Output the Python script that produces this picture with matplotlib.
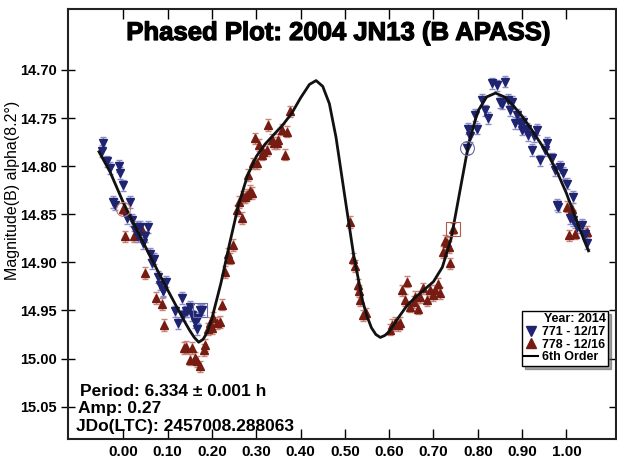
import numpy as np
from matplotlib import pyplot as plt
from matplotlib.lines import Line2D
import matplotlib.patheffects as pe

plt.rcParams['font.family'] = ['Liberation Sans', 'DejaVu Sans']

# session 771 (12/17), blue
ph_771 = [-0.045, -0.049, -0.037, -0.030, -0.011, -0.007, -0.001, -0.024, -0.019, 0.015,
          0.008, 0.019, 0.030, 0.038, 0.026, 0.034, 0.049, 0.056, 0.045, 0.060,
          0.068, 0.064, 0.079, 0.083, 0.090, 0.096, 0.117, 0.124, 0.132, 0.135,
          0.143, 0.151, 0.154, 0.162, 0.166, 0.173, 0.177, 0.089, 0.142, 0.169,
          0.779, 0.783, 0.775, 0.794, 0.798, 0.809, 0.817, 0.824, 0.832, 0.843,
          0.862, 0.850, 0.854, 0.869, 0.877, 0.873, 0.888, 0.884, 0.896, 0.903,
          0.899, 0.911, 0.914, 0.926, 0.933, 0.922, 0.941, 0.952, 0.956, 0.967,
          0.975, 0.986, 0.993, 1.001, 0.978, 0.982, 1.016, 1.008, 1.016, 1.023,
          1.035, 1.042, 1.046]
mag_771 = [14.776, 14.784, 14.795, 14.802, 14.800, 14.807, 14.820, 14.837, 14.840, 14.837,
           14.854, 14.856, 14.863, 14.863, 14.866, 14.873, 14.873, 14.863, 14.880, 14.891,
           14.896, 14.901, 14.915, 14.923, 14.929, 14.920, 14.951, 14.963, 14.937, 14.955,
           14.951, 14.946, 14.955, 14.962, 14.969, 14.949, 14.949, 14.930, 14.951, 14.958,
           14.761, 14.769, 14.781, 14.747, 14.761, 14.731, 14.742, 14.750, 14.714, 14.716,
           14.712, 14.733, 14.735, 14.731, 14.733, 14.742, 14.747, 14.755, 14.755, 14.754,
           14.762, 14.761, 14.768, 14.769, 14.762, 14.783, 14.794, 14.783, 14.776, 14.792,
           14.804, 14.801, 14.807, 14.818, 14.840, 14.842, 14.832, 14.854, 14.856, 14.863,
           14.861, 14.870, 14.880]

# session 778 (12/16), red
ph_778 = [0.000, 0.004, 0.023, 0.042, 0.049, 0.074, 0.087, 0.092, 0.142, 0.137,
          0.154, 0.151, 0.162, 0.166, 0.173, 0.181, 0.184, 0.192, 0.196, 0.203,
          0.211, 0.218, 0.222, 0.200, 0.230, 0.237, 0.241, 0.248, 0.256, 0.260,
          0.267, 0.271, 0.278, 0.286, 0.282, 0.293, 0.297, 0.275, 0.290, 0.301,
          0.307, 0.312, 0.316, 0.324, 0.327, 0.335, 0.339, 0.346, 0.350, 0.358,
          0.365, 0.369, 0.376, 0.512, 0.519, 0.523, 0.530, 0.533, 0.534, 0.542,
          0.548, 0.602, 0.606, 0.613, 0.621, 0.625, 0.628, 0.641, 0.636, 0.647,
          0.655, 0.658, 0.666, 0.670, 0.677, 0.685, 0.692, 0.700, 0.704, 0.711,
          0.715, 0.722, 0.726, 0.734, 0.737, 0.730, 0.745, 1.001, 1.005, 1.012,
          1.016, 1.020, 1.046]
mag_778 = [14.844, 14.873, 14.873, 14.866, 14.911, 14.937, 14.943, 14.965, 14.988, 14.989,
           14.989, 15.001, 14.999, 15.003, 15.008, 14.991, 14.986, 14.969, 14.963, 14.958,
           14.963, 14.962, 14.944, 14.968, 14.910, 14.891, 14.896, 14.882, 14.846, 14.837,
           14.854, 14.832, 14.830, 14.826, 14.809, 14.797, 14.771, 14.832, 14.828, 14.797,
           14.778, 14.788, 14.785, 14.783, 14.757, 14.773, 14.776, 14.776, 14.773, 14.762,
           14.788, 14.764, 14.743, 14.858, 14.896, 14.904, 14.923, 14.930, 14.939, 14.955,
           14.953, 14.970, 14.965, 14.963, 14.965, 14.963, 14.929, 14.920, 14.939, 14.946,
           14.941, 14.936, 14.948, 14.936, 14.927, 14.939, 14.929, 14.934, 14.929, 14.922,
           14.932, 14.889, 14.878, 14.884, 14.901, 14.880, 14.865, 14.842, 14.872, 14.844,
           14.852, 14.870, 14.868]

err_771 = 0.006
err_778 = 0.006

# 6th order fit curve
fit_ph = [-0.055, -0.03, 0.00, 0.03, 0.06, 0.09, 0.12, 0.14, 0.15, 0.16, 0.17,
          0.18, 0.19, 0.20, 0.22, 0.24, 0.26, 0.28, 0.30, 0.32, 0.34, 0.36,
          0.38, 0.40, 0.42, 0.435, 0.45, 0.465, 0.48, 0.50, 0.52, 0.54, 0.55,
          0.56, 0.57, 0.58, 0.59, 0.60, 0.62, 0.64, 0.66, 0.68, 0.70, 0.72, 0.74,
          0.76, 0.78, 0.80, 0.82, 0.84, 0.86, 0.88, 0.90, 0.92, 0.94,
          0.96, 0.98, 1.00, 1.02, 1.04, 1.05]
fit_mag = [14.785, 14.806, 14.838, 14.866, 14.893, 14.920, 14.946, 14.963, 14.971, 14.978, 14.983,
           14.980, 14.972, 14.958, 14.922, 14.880, 14.840, 14.810, 14.790, 14.777, 14.767, 14.757,
           14.745, 14.729, 14.715, 14.711, 14.717, 14.735, 14.770, 14.832, 14.893, 14.940, 14.956,
           14.968, 14.975, 14.978, 14.976, 14.972, 14.958, 14.945, 14.936, 14.928, 14.920, 14.905, 14.875,
           14.825, 14.775, 14.743, 14.728, 14.724, 14.728, 14.737, 14.748, 14.761, 14.775,
           14.789, 14.807, 14.828, 14.853, 14.877, 14.888]

blue = '#1f2470'
blue_err = '#8c8cc8'
red = '#761c12'
red_err = '#c88476'

fig = plt.figure(figsize=(6.17, 4.59), dpi=100)
ax = fig.add_axes([68/617, 20/459, 548/617, 430/459])

ax.errorbar(ph_778, mag_778, yerr=err_778, fmt='none', ecolor=red_err, elinewidth=1, capsize=2.5, capthick=1, zorder=2)
ax.errorbar(ph_771, mag_771, yerr=err_771, fmt='none', ecolor=blue_err, elinewidth=1, capsize=2.5, capthick=1, zorder=2)
ax.plot(ph_778, mag_778, '^', color=red, markersize=6.3, markeredgecolor=red, zorder=3)
ax.plot(ph_771, mag_771, 'v', color=blue, markersize=6.3, markeredgecolor=blue, zorder=3)
ax.plot(fit_ph, fit_mag, '-', color='#111111', lw=2, zorder=4)

# highlighted points
ax.plot([0.775], [14.781], 'o', mfc='none', mec='#6a6aa8', ms=10, mew=0.8, zorder=5)
ax.plot([0.173], [14.949], 's', mfc='none', mec='#6a6aa8', ms=10, mew=0.8, zorder=5)
ax.plot([0.745], [14.865], 's', mfc='none', mec='#b05a4a', ms=10, mew=0.8, zorder=5)
ax.plot([0.000], [14.844], 'o', mfc='none', mec='#c07a6a', ms=10, mew=0.8, zorder=5)

ax.set_xlim(-0.125, 1.112)
ax.set_ylim(15.0836, 14.6366)

xt = np.arange(0, 1.05, 0.1)
yt = [14.70, 14.75, 14.80, 14.85, 14.90, 14.95, 15.00, 15.05]
ax.set_xticks(xt)
ax.set_xticklabels(['%.2f' % v for v in xt], fontweight='bold', fontsize=11)
ax.set_yticks(yt)
ax.set_yticklabels(['%.2f' % v for v in yt], fontweight='bold', fontsize=10.5)
ax.tick_params(axis='x', direction='in', top=True, length=7, width=1, pad=4)
ax.tick_params(axis='y', direction='inout', right=True, length=10, width=1, pad=3)
for s in ax.spines.values():
    s.set_linewidth(1.5)
    s.set_color('#222222')

fig.text(339/617, 1 - 33/459, 'Phased Plot: 2004 JN13 (B APASS)', ha='center', va='center',
         fontsize=18.5, fontweight='bold',
         path_effects=[pe.withStroke(linewidth=0.9, foreground='black')])
fig.text(13/617, 1 - 190/459, 'Magnitude(B) alpha(8.2°)', rotation=90, ha='center', va='center',
         fontsize=11.5)

fig.text(80/617, 1 - 391/459, 'Period: 6.334 ± 0.001 h', ha='left', va='center', fontsize=12.5, fontweight='bold')
fig.text(78/617, 1 - 409/459, 'Amp: 0.27', ha='left', va='center', fontsize=12.5, fontweight='bold')
fig.text(76/617, 1 - 427/459, 'JDo(LTC): 2457008.288063', ha='left', va='center', fontsize=12.5, fontweight='bold')

handles = [Line2D([], [], ls='none', marker='v', color=blue, ms=6.5),
           Line2D([], [], ls='none', marker='^', color=red, ms=6.5),
           Line2D([], [], color='black', lw=1.5)]
leg = fig.legend(handles, ['771 - 12/17', '778 - 12/16', '6th Order'], title='Year: 2014',
                 loc='upper right', bbox_to_anchor=(608/617, 1 - 311/459),
                 prop={'weight': 'bold', 'size': 9}, title_fontproperties={'weight': 'bold', 'size': 9},
                 alignment='right', frameon=True, fancybox=False, shadow=True, framealpha=1,
                 edgecolor='black', handlelength=1.1, handletextpad=0.35, borderpad=0.2,
                 labelspacing=0.05, borderaxespad=0)
leg.get_frame().set_linewidth(1)

fig.savefig('out.png', dpi=100)
